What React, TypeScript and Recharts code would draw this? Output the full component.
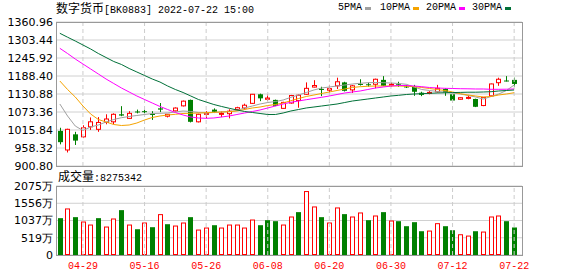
import React from "react";
import {
  Bar,
  CartesianGrid,
  ComposedChart,
  Line,
  ReferenceLine,
  XAxis,
  YAxis,
} from "recharts";

const dates = [
  "04-26", "04-27", "04-28", "04-29", "05-05", "05-06", "05-09", "05-10", "05-11", "05-12",
  "05-13", "05-16", "05-17", "05-18", "05-19", "05-20", "05-23", "05-24", "05-25", "05-26",
  "05-27", "05-30", "05-31", "06-01", "06-02", "06-06", "06-07", "06-08", "06-09", "06-10",
  "06-13", "06-14", "06-15", "06-16", "06-17", "06-20", "06-21", "06-22", "06-23", "06-24",
  "06-27", "06-28", "06-29", "06-30", "07-01", "07-04", "07-05", "07-06", "07-07", "07-08",
  "07-11", "07-12", "07-13", "07-14", "07-15", "07-18", "07-19", "07-20", "07-21", "07-22",
];

const opens = [
  1013, 952, 1002, 994, 1026, 1018, 1040, 1042, 1066, 1053,
  1075, 1076, 1067, 1085, 1060, 1077, 1093, 1112, 1042, 1066,
  1081, 1066, 1068, 1081, 1086, 1101, 1130, 1114, 1112, 1085,
  1102, 1110, 1130, 1153, 1147, 1143, 1157, 1168, 1144, 1163,
  1162, 1162, 1176, 1160, 1162, 1155, 1154, 1135, 1133, 1138,
  1147, 1130, 1114, 1118, 1115, 1094, 1125, 1167, 1174, 1176,
];
const closes = [
  977, 1018, 982, 1023, 1042, 1040, 1051, 1066, 1062, 1069,
  1074, 1075, 1064, 1081, 1066, 1086, 1108, 1042, 1066, 1069,
  1074, 1069, 1076, 1087, 1095, 1130, 1117, 1118, 1093, 1104,
  1126, 1127, 1149, 1158, 1146, 1148, 1170, 1141, 1157, 1162,
  1161, 1178, 1157, 1162, 1161, 1154, 1138, 1128, 1136, 1149,
  1136, 1110, 1119, 1120, 1090, 1120, 1163, 1178, 1173, 1163,
];
const highs = [
  1023, 1020, 1010, 1031, 1056, 1057, 1066, 1069, 1092, 1076,
  1081, 1082, 1076, 1102, 1067, 1088, 1110, 1113, 1068, 1076,
  1085, 1075, 1082, 1090, 1100, 1131, 1132, 1130, 1113, 1106,
  1128, 1129, 1168, 1175, 1154, 1160, 1183, 1170, 1160, 1178,
  1167, 1180, 1188, 1167, 1170, 1160, 1160, 1138, 1140, 1160,
  1149, 1132, 1120, 1128, 1116, 1121, 1164, 1183, 1188, 1183,
];
const lows = [
  970, 944, 968, 990, 1016, 1010, 1034, 1034, 1060, 1051,
  1069, 1065, 1048, 1073, 1056, 1075, 1091, 1040, 1040, 1053,
  1070, 1057, 1053, 1078, 1081, 1099, 1108, 1108, 1092, 1084,
  1100, 1087, 1128, 1152, 1124, 1133, 1147, 1139, 1134, 1158,
  1154, 1149, 1156, 1154, 1154, 1150, 1125, 1124, 1130, 1136,
  1125, 1108, 1113, 1114, 1089, 1092, 1124, 1157, 1171, 1154,
];

// 成交量 (万)
const volumes = [
  1108, 1400, 1138, 1007, 916, 1108, 856, 1098, 1349, 916,
  775, 977, 836, 1229, 926, 886, 977, 1138, 765, 826,
  896, 826, 916, 916, 826, 1067, 896, 1047, 1017, 916,
  1158, 1289, 1923, 1460, 1138, 977, 1430, 1229, 1158, 1279,
  1047, 1188, 1289, 1037, 1017, 866, 987, 715, 735, 957,
  866, 745, 624, 584, 715, 705, 1158, 1188, 1017, 827.5342,
];
const volColors = [
  "G", "R", "G", "R", "R", "G", "R", "R", "G", "R",
  "G", "R", "G", "R", "G", "R", "R", "G", "R", "R",
  "G", "R", "R", "R", "R", "R", "G", "G", "G", "R",
  "R", "G", "R", "R", "G", "R", "R", "G", "R", "R",
  "G", "R", "G", "R", "G", "G", "G", "G", "R", "R",
  "G", "G", "R", "R", "G", "R", "R", "R", "G", "G",
];

const ma5 = [
  1098.9, 1060.6, 1028.6, 1014.2, 1025.4, 1031.8, 1041.4, 1049.4, 1055.1, 1059,
  1062.2, 1065.4, 1068.6, 1069.2, 1070.2, 1073.4, 1076.6, 1075, 1071.8, 1070.2,
  1071.8, 1073.4, 1075, 1078.2, 1086.2, 1092.5, 1098.9, 1103.7, 1106.9, 1111.7,
  1120.3, 1127.7, 1135.7, 1143.7, 1150.1, 1153.2, 1156.4, 1159.6, 1162.8, 1165.1,
  1167, 1167.6, 1167, 1166, 1164.4, 1161.9, 1153.2, 1145.3, 1142.1, 1138.9,
  1137.3, 1134.1, 1130.9, 1126.1, 1121.3, 1114.9, 1122.9, 1130.9, 1142.1, 1159.6,
];
const ma10 = [
  1172.4, 1145.3, 1121.3, 1092.5, 1066.9, 1049.4, 1041.4, 1033.4, 1030.2, 1031.8,
  1038.2, 1047.8, 1055.8, 1060.6, 1063.8, 1066, 1068.6, 1069.2, 1070.2, 1071.1,
  1072.4, 1073.4, 1074.3, 1076.6, 1081.3, 1086.2, 1089.3, 1094.1, 1097.3, 1102.1,
  1109.5, 1116.5, 1122.9, 1127.7, 1132.5, 1137.3, 1142.1, 1146.9, 1151.7, 1154.2,
  1155.5, 1156.4, 1156.4, 1156.4, 1156.4, 1155.5, 1154.2, 1151.7, 1148.5, 1145.3,
  1142.1, 1137.3, 1131.9, 1127.7, 1124.5, 1121.3, 1122.9, 1127.7, 1130.9, 1135,
];
const ma20 = [
  1276.9, 1260.3, 1242.7, 1226.7, 1210.8, 1194.8, 1178.8, 1164.4, 1150.1, 1137.3,
  1124.5, 1113.3, 1102.1, 1091, 1081.3, 1071.8, 1063.8, 1057.4, 1054.2, 1053.2,
  1054.2, 1057.4, 1060.6, 1065.4, 1070.2, 1075, 1079.8, 1086.2, 1092.5, 1098.9,
  1104.4, 1108.5, 1112.7, 1116.5, 1120.3, 1124.5, 1129.3, 1134.1, 1137.3, 1140.5,
  1145.3, 1150.1, 1153.2, 1156.4, 1158, 1158, 1156.4, 1154.2, 1151.7, 1150.1,
  1149.1, 1148.5, 1147.8, 1147.5, 1146.9, 1146.9, 1145.9, 1145.9, 1146.2, 1146.9,
];
const ma30 = [
  1324.9, 1312.4, 1300.2, 1287.5, 1274.7, 1260.3, 1247.5, 1234.7, 1225.2, 1212.4,
  1201.2, 1190, 1178.8, 1169.2, 1156.4, 1145.3, 1135.7, 1124.5, 1113.3, 1105.3,
  1097.3, 1091, 1085.2, 1079.8, 1075, 1071.8, 1068.6, 1065.4, 1065.4, 1070.2,
  1076.6, 1081.3, 1086.2, 1089.3, 1092.5, 1095.7, 1098.9, 1103.7, 1108.5, 1111.7,
  1114.9, 1118.1, 1121.3, 1124.5, 1126.7, 1129.3, 1130.9, 1131.8, 1133.1, 1134.1,
  1134.7, 1135.4, 1136, 1136.6, 1136.6, 1137.3, 1138.2, 1140.5, 1142.1, 1143.7,
];

const priceTicks = [900.8, 958.32, 1015.84, 1073.36, 1130.88, 1188.4, 1245.92, 1303.44, 1360.96];
const volTicks = [0, 518.75, 1037.5, 1556.25, 2075];
const volTickLabels = ["0", "519万", "1037万", "1556万", "2075万"];
const dateTicks = ["04-29", "05-16", "05-26", "06-08", "06-20", "06-30", "07-12", "07-22"];

const legendItems = [
  { name: "5PMA", color: "#a0a0a0", left: 338 },
  { name: "10PMA", color: "#f5a300", left: 380 },
  { name: "20PMA", color: "#ff00ff", left: 426 },
  { name: "30PMA", color: "#007038", left: 472 },
];

const RED = "#ff0000";
const GREEN = "#008000";
const MONO = "'Liberation Mono', 'DejaVu Sans Mono', monospace";
const CJK = "'Noto Sans CJK SC', sans-serif";
const AXIS_FONT = "'DejaVu Sans', sans-serif";

const data = dates.map((date, i) => ({
  date,
  open: opens[i],
  close: closes[i],
  high: highs[i],
  low: lows[i],
  vol: volumes[i],
  volUp: volColors[i] === "R",
  ma5: ma5[i],
  ma10: ma10[i],
  ma20: ma20[i],
  ma30: ma30[i],
}));

const Candle = (props: any) => {
  const { x, y, width, height, payload } = props;
  if (!payload) return null;
  const { open, close, high, low } = payload;
  const top = Math.min(y, y + height);
  const h = Math.abs(height);
  const ratio = h / (high - low || 1);
  const yO = top + (high - open) * ratio;
  const yC = top + (high - close) * ratio;
  const up = close >= open;
  const color = up ? RED : GREEN;
  const cx = Math.round(x + width / 2) + 0.5;
  const bTop = Math.min(yO, yC);
  const bH = Math.max(Math.abs(yO - yC), 1);
  return (
    <g>
      <line x1={cx} x2={cx} y1={top} y2={top + h} stroke={color} />
      {up ? (
        <rect x={cx - 2} y={bTop} width={4} height={bH} fill="#fff" stroke={color} />
      ) : (
        <rect x={cx - 2.5} y={bTop} width={5} height={bH} fill={color} />
      )}
    </g>
  );
};

const VolBar = (props: any) => {
  const { x, y, width, height, payload } = props;
  if (!payload) return null;
  const cx = Math.round(x + width / 2) + 0.5;
  if (payload.volUp) {
    return (
      <rect x={cx - 2} y={y + 0.5} width={4} height={Math.max(height - 1, 0)} fill="#fff" stroke={RED} />
    );
  }
  return <rect x={cx - 2.5} y={y} width={5} height={height} fill={GREEN} />;
};

const frame = (top: number, height: number) => (
  <div
    style={{
      position: "absolute",
      left: 56,
      top,
      width: 467,
      height,
      border: "1px solid #999",
      boxSizing: "border-box",
      pointerEvents: "none",
    }}
  />
);

export default function App() {
  return (
    <div
      style={{
        position: "absolute",
        left: 0,
        top: 0,
        width: 578,
        height: 276,
        background: "#fff",
        overflow: "hidden",
      }}
    >
      <div
        style={{
          position: "absolute",
          left: 56,
          top: 1,
          lineHeight: "14px",
          color: "#000",
          whiteSpace: "nowrap",
        }}
      >
        <span style={{ fontFamily: CJK, fontSize: 12 }}>数字货币</span>
        <span style={{ fontFamily: MONO, fontSize: 10 }}>[BK0883] 2022-07-22 15:00</span>
      </div>

      {legendItems.map((item) => (
        <div
          key={item.name}
          style={{
            position: "absolute",
            left: item.left,
            top: 1,
            lineHeight: "14px",
            fontFamily: MONO,
            fontSize: 10,
            display: "flex",
            alignItems: "center",
          }}
        >
          <span>{item.name}</span>
          <span
            style={{
              display: "inline-block",
              width: 6,
              height: 3,
              marginLeft: 3,
              background: item.color,
            }}
          />
        </div>
      ))}

      <div
        style={{
          position: "absolute",
          left: 58,
          top: 169,
          lineHeight: "14px",
          whiteSpace: "nowrap",
        }}
      >
        <span style={{ fontFamily: CJK, fontSize: 12 }}>成交量</span>
        <span style={{ fontFamily: MONO, fontSize: 10 }}>:8275342</span>
      </div>

      <div style={{ position: "absolute", left: 0, top: 170 }}>
        <ComposedChart
          width={578}
          height={106}
          data={data}
          margin={{ top: 16, right: 56, bottom: 0, left: 0 }}
        >
          <CartesianGrid vertical={false} stroke="#d0d0d0" />
          <XAxis
            dataKey="date"
            ticks={dateTicks}
            interval={0}
            height={21}
            padding={{ left: 0, right: 4 }}
            axisLine={false}
            tickLine={false}
            tickSize={0}
            tickMargin={7}
            tick={{ fontSize: 10, fill: RED, fontFamily: MONO }}
          />
          <YAxis
            domain={[0, 2075]}
            ticks={volTicks}
            interval={0}
            allowDataOverflow
            width={56}
            axisLine={false}
            tickLine={false}
            tickSize={0}
            tickMargin={3}
            tickFormatter={(v: number) => volTickLabels[volTicks.indexOf(v)] ?? ""}
            tick={{ fontSize: 11, fill: "#000", fontFamily: AXIS_FONT }}
          />
          {dateTicks.map((d) => (
            <ReferenceLine key={d} x={d} stroke="#cccccc" strokeDasharray="4 3" />
          ))}
          <Bar dataKey="vol" barSize={5} shape={<VolBar />} isAnimationActive={false} />
        </ComposedChart>
      </div>
      {frame(186, 70)}

      <div style={{ position: "absolute", left: 0, top: 0 }}>
        <ComposedChart
          width={578}
          height={180}
          data={data}
          margin={{ top: 22, right: 56, bottom: 14, left: 0 }}
        >
          <CartesianGrid vertical={false} stroke="#d0d0d0" />
          <XAxis dataKey="date" hide padding={{ left: 0, right: 4 }} />
          <YAxis
            domain={[900.8, 1360.96]}
            ticks={priceTicks}
            interval={0}
            allowDataOverflow
            width={56}
            axisLine={false}
            tickLine={false}
            tickSize={0}
            tickMargin={3}
            tickFormatter={(v: number) => v.toFixed(2)}
            tick={{ fontSize: 11, fill: "#000", fontFamily: AXIS_FONT }}
          />
          {dateTicks.map((d) => (
            <ReferenceLine key={d} x={d} stroke="#cccccc" strokeDasharray="4 3" />
          ))}
          <Bar
            dataKey={(d: any) => [d.low, d.high]}
            barSize={5}
            shape={<Candle />}
            isAnimationActive={false}
          />
          <Line dataKey="ma5" stroke="#a0a0a0" dot={false} strokeWidth={1} isAnimationActive={false} />
          <Line dataKey="ma10" stroke="#f5a300" dot={false} strokeWidth={1} isAnimationActive={false} />
          <Line dataKey="ma20" stroke="#ff00ff" dot={false} strokeWidth={1} isAnimationActive={false} />
          <Line dataKey="ma30" stroke="#007038" dot={false} strokeWidth={1} isAnimationActive={false} />
        </ComposedChart>
      </div>
      {frame(22, 145)}
    </div>
  );
}
